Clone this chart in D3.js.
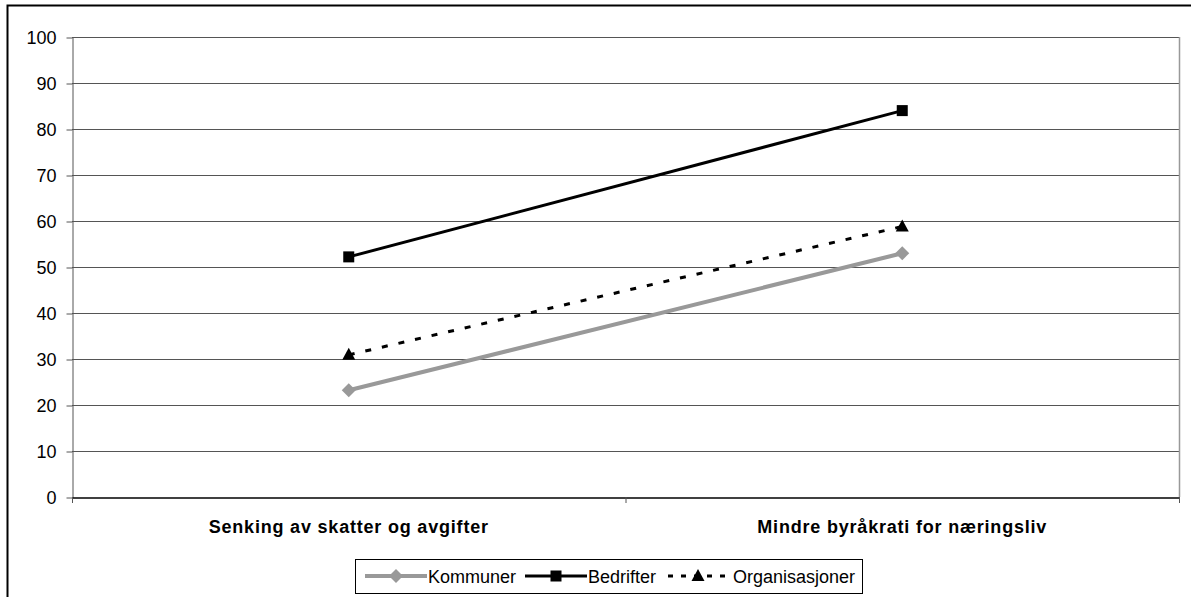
<!DOCTYPE html>
<html><head><meta charset="utf-8">
<script src="https://cdn.jsdelivr.net/npm/d3@7"></script>
<style>body{margin:0;background:#fff}svg{display:block;font-family:"Liberation Sans",Arial,sans-serif}</style>
</head><body><svg id="c" width="1191" height="597"></svg>
<script>
const categories = ["Senking av skatter og avgifter", "Mindre byråkrati for næringsliv"];
const seriesNames = ["Kommuner", "Bedrifter", "Organisasjoner"];
const kommuner = [23.2, 53.0];
const bedrifter = [52.2, 84.0];
const organisasjoner = [30.9, 58.8];
const yTicks = [0,10,20,30,40,50,60,70,80,90,100];

const series = [
  {name: seriesNames[0], values: kommuner, color: "#999999", width: 4, dash: null, marker: "diamond"},
  {name: seriesNames[1], values: bedrifter, color: "#000000", width: 3, dash: null, marker: "square"},
  {name: seriesNames[2], values: organisasjoner, color: "#000000", width: 3, dash: "6,11", marker: "triangle"}
];

const FS = 18;
const svg = d3.select("#c");
const L = 72, R = 1179, T = 37, B = 497;
svg.append("rect").attr("x",7.5).attr("y",5.5).attr("width",1200).attr("height",620)
  .attr("fill","none").attr("stroke","#000").attr("stroke-width",2);

const x = d3.scaleBand().domain(categories).range([L, R]);
const y = d3.scaleLinear().domain([0,100]).range([B, T]);

// gridlines
svg.append("g").selectAll("line").data(yTicks.filter(d=>d>0)).join("line")
  .attr("x1",L).attr("x2",R).attr("y1",d=>y(d)+0.5).attr("y2",d=>y(d)+0.5)
  .attr("stroke","#555").attr("stroke-width",1);
// plot area right border
svg.append("line").attr("x1",R+0.5).attr("x2",R+0.5).attr("y1",T).attr("y2",B)
  .attr("stroke","#999").attr("stroke-width",1.5);

// y axis
const ya = svg.append("g").attr("transform",`translate(${L+0.5},0.5)`)
  .call(d3.axisLeft(y).tickValues(yTicks).tickSize(6).tickSizeOuter(0).tickPadding(10));
ya.select(".domain").attr("stroke","#555");
ya.selectAll(".tick line").attr("stroke","#555");
ya.selectAll("text").attr("font-size",FS).attr("fill","#000").attr("font-family","Liberation Sans, Arial, sans-serif");

// x axis
const xa = svg.append("g").attr("transform",`translate(0,${B+0.5})`)
  .call(d3.axisBottom(x).tickSize(0).tickPadding(23));
xa.select(".domain").attr("stroke","#000").attr("stroke-width",1.5);
xa.selectAll("text").attr("font-size",FS).attr("font-weight","bold").attr("fill","#000")
  .attr("letter-spacing","0.8px")
  .attr("font-family","Liberation Sans, Arial, sans-serif");
// tick marks between categories
const bounds = [L, x(categories[1]), R];
svg.append("g").selectAll("line").data(bounds).join("line")
  .attr("x1",d=>d+0.5).attr("x2",d=>d+0.5).attr("y1",B).attr("y2",B+6)
  .attr("stroke","#555");

const cx = c => x(c) + x.bandwidth()/2;
const line = d3.line().x((d,i)=>cx(categories[i])).y(d=>y(d));

function marker(g, type, px, py, color){
  if(type==="diamond"){
    g.append("path").attr("d",`M${px},${py-7}L${px+7},${py}L${px},${py+7}L${px-7},${py}Z`).attr("fill",color);
  } else if(type==="square"){
    g.append("rect").attr("x",px-5.5).attr("y",py-5.5).attr("width",11).attr("height",11).attr("fill",color);
  } else {
    g.append("path").attr("d",`M${px},${py-7}L${px+6.5},${py+5}L${px-6.5},${py+5}Z`).attr("fill",color);
  }
}

series.forEach(s=>{
  const g = svg.append("g");
  g.append("path").datum(s.values).attr("d",line).attr("fill","none")
    .attr("stroke",s.color).attr("stroke-width",s.width)
    .attr("stroke-dasharray",s.dash);
  s.values.forEach((v,i)=>marker(g,s.marker,cx(categories[i]),y(v),s.color));
});

// legend
const lg = svg.append("g");
lg.append("rect").attr("x",355.5).attr("y",559.5).attr("width",507).attr("height",34)
  .attr("fill","#fff").attr("stroke","#000").attr("stroke-width",1);
const items = [
  {s: series[0], x0: 365, x1: 427, tx: 428, dash: null},
  {s: series[1], x0: 525, x1: 587, tx: 588, dash: null},
  {s: series[2], x0: 668, x1: 728, tx: 733, dash: "5,8"}
];
items.forEach(it=>{
  const ly = 576;
  lg.append("line").attr("x1",it.x0).attr("x2",it.x1).attr("y1",ly).attr("y2",ly)
    .attr("stroke",it.s.color).attr("stroke-width",it.s.width).attr("stroke-dasharray",it.dash);
  marker(lg,it.s.marker,(it.x0+it.x1)/2,ly,it.s.color);
  lg.append("text").attr("x",it.tx).attr("y",ly+6.5).attr("font-size",FS).attr("fill","#000").text(it.s.name);
});
</script></body></html>
